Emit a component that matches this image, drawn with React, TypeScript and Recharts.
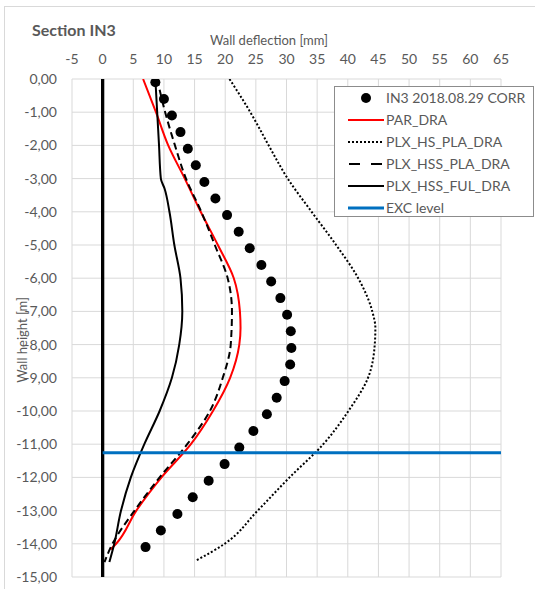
import React from "react";
import { ScatterChart, Scatter, XAxis, YAxis, CartesianGrid, Legend } from "recharts";

// ---------- data ----------
const xTicks = [-5, 0, 5, 10, 15, 20, 25, 30, 35, 40, 45, 50, 55, 60, 65];
const yTicks = [0, -1, -2, -3, -4, -5, -6, -7, -8, -9, -10, -11, -12, -13, -14, -15];

// Measured inclinometer IN3 2018.08.29 CORR
const in3Depth = [-0.1, -0.6, -1.1, -1.6, -2.1, -2.6, -3.1, -3.6, -4.1, -4.6, -5.1, -5.6, -6.1, -6.6, -7.1, -7.6, -8.1, -8.6, -9.1, -9.6, -10.1, -10.6, -11.1, -11.6, -12.1, -12.6, -13.1, -13.6, -14.1];
const in3Defl = [8.6, 10.0, 11.3, 12.7, 13.9, 15.2, 16.6, 18.4, 20.3, 22.2, 24.0, 25.9, 27.5, 29.0, 30.1, 30.7, 30.8, 30.6, 29.7, 28.4, 26.8, 24.6, 22.3, 19.9, 17.3, 14.7, 12.2, 9.5, 7.0];

// PAR_DRA
const parDepth = [0, -1, -2, -3, -4, -5, -6, -7, -7.5, -8, -9, -10, -11, -12, -13, -14, -14.17];
const parDefl = [6.6, 8.7, 10.7, 13.4, 16.0, 18.8, 21.4, 22.4, 22.5, 22.3, 20.8, 18.0, 14.4, 9.6, 5.5, 2.2, 1.3];

// PLX_HS_PLA_DRA
const hsPlaDepth = [0, -1, -2, -3, -4, -5, -6, -7, -7.5, -8, -9, -10, -11, -12, -13, -14, -14.5];
const hsPlaDefl = [20.7, 24.1, 27.1, 30.2, 34.1, 38.1, 41.7, 44.0, 44.5, 44.4, 43.3, 40.1, 36.0, 30.5, 25.3, 19.9, 15.3];

// PLX_HSS_PLA_DRA
const hssPlaDepth = [0, -1, -2, -3, -4, -5, -6, -7, -8, -9, -10, -11, -12, -13, -14, -14.55];
const hssPlaDefl = [8.9, 10.2, 11.8, 13.6, 16.1, 18.3, 20.4, 21.1, 20.9, 19.6, 17.5, 13.8, 9.3, 5.2, 1.6, 0.3];

// PLX_HSS_FUL_DRA
const hssFulDepth = [0, -1, -2, -3, -3.3, -4, -5, -6, -7, -8, -9, -10, -11, -12, -13, -14, -14.55];
const hssFulDefl = [8.6, 8.9, 9.2, 9.5, 10.1, 10.9, 11.7, 12.7, 13.0, 12.5, 11.3, 9.3, 6.8, 4.6, 3.0, 1.9, 1.1];

// EXC level
const excDepth = [-11.26, -11.26];
const excDefl = [0, 65];

// Wall
const wallDepth = [0, -15];
const wallDefl = [0, 0];

const legendNames = ["IN3 2018.08.29 CORR", "PAR_DRA", "PLX_HS_PLA_DRA", "PLX_HSS_PLA_DRA", "PLX_HSS_FUL_DRA", "EXC level"];

const toPts = (xs: number[], ys: number[]) => xs.map((x, i) => ({ x, y: ys[i] }));

const in3Data = toPts(in3Defl, in3Depth);
const parData = toPts(parDefl, parDepth);
const hsPlaData = toPts(hsPlaDefl, hsPlaDepth);
const hssPlaData = toPts(hssPlaDefl, hssPlaDepth);
const hssFulData = toPts(hssFulDefl, hssFulDepth);
const excData = toPts(excDefl, excDepth);
const wallData = toPts(wallDefl, wallDepth);

const GREY = "#595959";
const FONT = "Lato, 'Open Sans', sans-serif";

const noShape = () => <g />;

const fmtY = (v: number) => v.toFixed(2).replace(".", ",");

const LegendBox = () => {
  const sym = (i: number) => {
    switch (i) {
      case 0:
        return <circle cx={18} cy={6} r={5} fill="#000" />;
      case 1:
        return <line x1={0} y1={6} x2={36} y2={6} stroke="#FF0000" strokeWidth={2} />;
      case 2:
        return <line x1={0} y1={6} x2={36} y2={6} stroke="#000" strokeWidth={2} strokeDasharray="2 2" />;
      case 3:
        return <line x1={1} y1={6} x2={36} y2={6} stroke="#000" strokeWidth={2} strokeDasharray="11 11" />;
      case 4:
        return <line x1={0} y1={6} x2={36} y2={6} stroke="#000" strokeWidth={2} />;
      default:
        return <line x1={0} y1={6} x2={36} y2={6} stroke="#0070C0" strokeWidth={3} />;
    }
  };
  return (
    <div
      style={{
        width: 200,
        height: 131,
        border: "1px solid #8c8c8c",
        background: "#fff",
        boxSizing: "border-box",
        fontFamily: FONT,
        fontSize: 14,
        color: GREY,
      }}
    >
      {legendNames.map((n, i) => (
        <div key={n} style={{ position: "relative", height: 22, top: 0 }}>
          <svg width={36} height={12} style={{ position: "absolute", left: 13, top: 5 }}>
            {sym(i)}
          </svg>
          <span style={{ position: "absolute", left: 51, top: 2, whiteSpace: "nowrap", lineHeight: "18px" }}>{n}</span>
        </div>
      ))}
    </div>
  );
};

export default function App() {
  return (
    <div style={{ position: "absolute", left: 0, top: 0, width: 535, height: 589, overflow: "hidden", background: "#fff", fontFamily: FONT }}>
      <div style={{ position: "absolute", left: 4, top: 6, width: 560, height: 620, border: "1px solid #d9d9d9" }} />
      <div style={{ position: "absolute", left: 32, top: 20, fontSize: 16, fontWeight: 700, color: GREY, lineHeight: "20px" }}>Section IN3</div>
      <div style={{ position: "absolute", left: 169, width: 200, top: 32, textAlign: "center", fontSize: 13, color: GREY, lineHeight: "17px" }}>Wall deflection [mm]</div>
      <div
        style={{
          position: "absolute",
          left: 22 - 60,
          top: 340 - 9,
          width: 120,
          textAlign: "center",
          transform: "rotate(-90deg)",
          fontSize: 13,
          color: GREY,
          lineHeight: "18px",
        }}
      >
        Wall height [m]
      </div>
      <div style={{ position: "absolute", left: 0, top: 0 }}>
        <ScatterChart width={535} height={589} margin={{ top: 0, right: 34, bottom: 12, left: 0 }}>
          <CartesianGrid stroke="#d9d9d9" strokeWidth={1} />
          <XAxis
            type="number"
            dataKey="x"
            orientation="top"
            height={79}
            domain={[-5, 65]}
            ticks={xTicks}
            allowDataOverflow
            axisLine={false}
            tickLine={false}
            tickSize={0}
            tickMargin={15}
            interval={0}
            tick={{ fill: GREY, fontSize: 14, fontFamily: FONT }}
          />
          <YAxis
            type="number"
            dataKey="y"
            width={72}
            domain={[-15, 0]}
            ticks={yTicks}
            allowDataOverflow
            axisLine={false}
            tickLine={false}
            tickSize={0}
            tickMargin={15}
            interval={0}
            tickFormatter={fmtY}
            tick={{ fill: GREY, fontSize: 14, fontFamily: FONT }}
          />
          <Legend
            layout="vertical"
            align="center"
            verticalAlign="middle"
            content={() => <LegendBox />}
            wrapperStyle={{ position: "absolute", left: 334, top: 86, width: 200, height: 131 }}
          />
          <Scatter name="wall" data={wallData} shape={noShape} line={{ stroke: "#000", strokeWidth: 3.3 }} legendType="none" isAnimationActive={false} />
          <Scatter name={legendNames[0]} data={in3Data} fill="#000" shape={(p: any) => <circle cx={p.cx} cy={p.cy} r={5} fill="#000" />} isAnimationActive={false} />
          <Scatter name={legendNames[1]} data={parData} shape={noShape} line={{ stroke: "#FF0000", strokeWidth: 2 }} lineJointType="monotoneY" isAnimationActive={false} />
          <Scatter name={legendNames[2]} data={hsPlaData} shape={noShape} line={{ stroke: "#000", strokeWidth: 2, strokeDasharray: "2 2" }} lineJointType="monotoneY" isAnimationActive={false} />
          <Scatter name={legendNames[3]} data={hssPlaData} shape={noShape} line={{ stroke: "#000", strokeWidth: 2, strokeDasharray: "7 4" }} lineJointType="monotoneY" isAnimationActive={false} />
          <Scatter name={legendNames[4]} data={hssFulData} shape={noShape} line={{ stroke: "#000", strokeWidth: 2 }} lineJointType="monotoneY" isAnimationActive={false} />
          <Scatter name={legendNames[5]} data={excData} shape={noShape} line={{ stroke: "#0070C0", strokeWidth: 3 }} isAnimationActive={false} />
        </ScatterChart>
      </div>
    </div>
  );
}
